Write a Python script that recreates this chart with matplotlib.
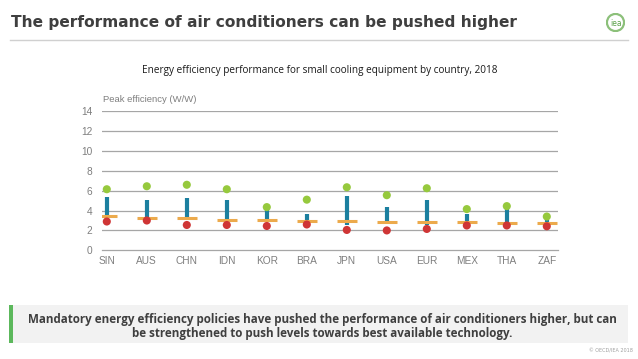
import numpy as np
import matplotlib.pyplot as plt
from matplotlib.lines import Line2D
from matplotlib.patches import Rectangle, Circle

# data (peak efficiency, W/W)
countries = ["SIN", "AUS", "CHN", "IDN", "KOR", "BRA", "JPN", "USA", "EUR", "MEX", "THA", "ZAF"]
best_available = [6.15, 6.45, 6.6, 6.15, 4.35, 5.1, 6.35, 5.55, 6.25, 4.15, 4.45, 3.4]
range_high = [5.4, 5.05, 5.25, 5.1, 4.05, 3.65, 5.5, 4.35, 5.1, 3.7, 4.2, 3.05]
range_low = [3.4, 3.2, 3.1, 2.7, 2.85, 2.9, 2.5, 2.7, 2.55, 2.55, 2.6, 2.6]
standard = [3.45, 3.3, 3.28, 3.05, 3.05, 2.95, 2.95, 2.9, 2.9, 2.82, 2.75, 2.72]
market_low = [2.9, 3.0, 2.55, 2.55, 2.45, 2.6, 2.05, 2.0, 2.15, 2.5, 2.5, 2.42]
y_ticks = [0, 2, 4, 6, 8, 10, 12, 14]

W, H = 638, 359
fig = plt.figure(figsize=(W / 100, H / 100), dpi=100)
fig.patch.set_facecolor("white")

def fx(px):
    return px / W

def fy(py):
    return 1 - py / H

# header
fig.text(fx(11), fy(23), "The performance of air conditioners can be pushed higher",
         fontsize=11.1, fontweight="bold", color="#3f3f3f", va="center", ha="left",
         family="DejaVu Sans")
fig.add_artist(Line2D([fx(10), fx(628)], [fy(39.5), fy(39.5)], color="#d0d0d0", lw=1))

# small logo
lax = fig.add_axes([fx(606), fy(32), fx(19), 19 / H])
lax.set_xlim(-1, 1)
lax.set_ylim(-1, 1)
lax.axis("off")
lax.add_patch(Circle((0, 0), 0.9, facecolor="white", edgecolor="#8cc07a", lw=1.6))
lax.text(0.05, -0.1, "iea", ha="center", va="center", fontsize=5.5, color="#5aa048")

fig.text(fx(320), fy(71), "Energy efficiency performance for small cooling equipment by country, 2018",
         fontsize=7.2, color="#1a1a1a", ha="center", va="center", family="Open Sans")

# chart
ax = fig.add_axes([fx(102), fy(250.3), fx(456), (250.3 - 111.3) / H])
x = np.arange(len(countries))
grey = "#a6a6a6"
for yv in y_ticks[1:]:
    ax.axhline(yv, color=grey, lw=0.9, zorder=0)
ax.vlines(x, range_low, range_high, color="#1b7f9f", lw=3, zorder=2)
ax.scatter(x, standard, marker="_", s=200, linewidths=2.2, color="#ecaa4c", zorder=3)
ax.scatter(x, market_low, s=34, color="#cf3535", edgecolors="none", zorder=4)
ax.scatter(x, best_available, s=34, color="#96c93d", edgecolors="none", zorder=4)

ax.set_xlim(-0.12, 11.28)
ax.set_ylim(0, 14)
ax.set_xticks(x)
ax.set_xticklabels(countries)
ax.set_yticks(y_ticks)
for s in ["top", "right", "left"]:
    ax.spines[s].set_visible(False)
ax.spines["bottom"].set_color(grey)
ax.spines["bottom"].set_linewidth(0.9)
ax.tick_params(length=0, colors="#7f7f7f", labelsize=7.3, pad=4)
ax.tick_params(axis="y", pad=7)
for lab in ax.get_xticklabels() + ax.get_yticklabels():
    lab.set_family("Liberation Sans")
ax.set_facecolor("none")
fig.text(fx(103), fy(99), "Peak efficiency (W/W)", fontsize=6.8, color="#7f7f7f",
         ha="left", va="center", family="Liberation Sans")

# bottom message box
fig.add_artist(Rectangle((fx(9), fy(343)), fx(619), (343 - 305) / H,
                         facecolor="#f2f2f2", edgecolor="none"))
fig.add_artist(Rectangle((fx(9), fy(343)), fx(3.5), (343 - 305) / H,
                         facecolor="#5cb85c", edgecolor="none"))
fig.text(fx(322), fy(319), "Mandatory energy efficiency policies have pushed the performance of air conditioners higher, but can",
         fontsize=8.4, fontweight="bold", color="#3f3f3f", ha="center", va="center", family="Open Sans")
fig.text(fx(322), fy(333), "be strengthened to push levels towards best available technology.",
         fontsize=8.4, fontweight="bold", color="#3f3f3f", ha="center", va="center", family="Open Sans")
fig.text(fx(633), fy(351), "© OECD/IEA 2018", fontsize=3.5, color="#a0a0a0", ha="right", va="center")

fig.savefig("out.png", dpi=100)
